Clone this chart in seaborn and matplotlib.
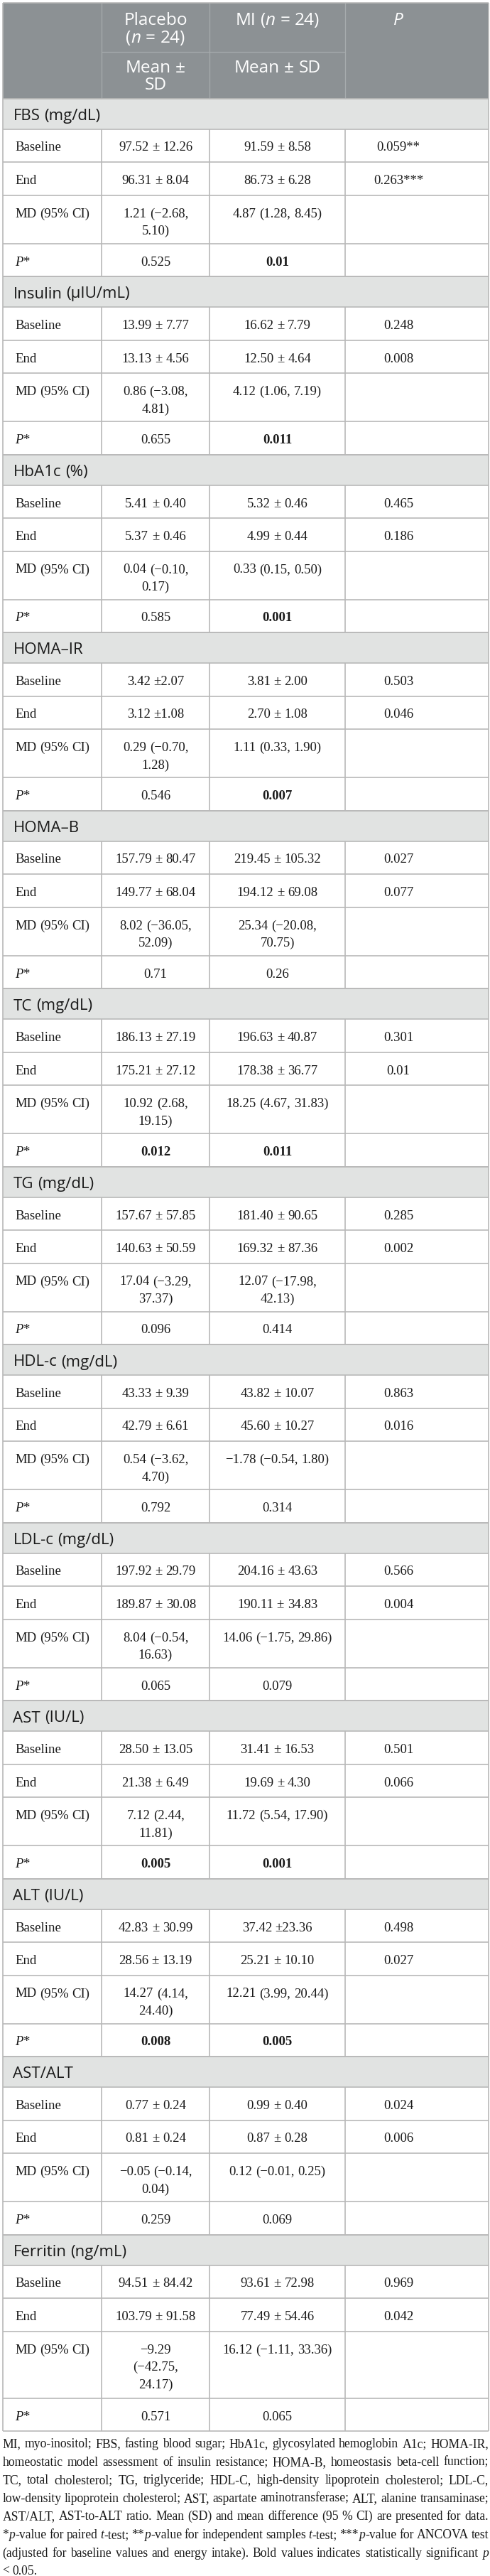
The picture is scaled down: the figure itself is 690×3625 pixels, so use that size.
import re

import matplotlib
matplotlib.use("Agg")
import matplotlib.pyplot as plt
from matplotlib.patches import Rectangle
import seaborn as sns


measures = [
    "FBS (mg/dL)", "Insulin (μIU/mL)", "HbA1c (%)", "HOMA–IR", "HOMA–B",
    "TC (mg/dL)", "TG (mg/dL)", "HDL-c (mg/dL)", "LDL-c (mg/dL)",
    "AST (IU/L)", "ALT (IU/L)", "AST/ALT", "Ferritin (ng/mL)",
]

row_labels = ["Baseline", "End", "MD (95% CI)", "_P_*"]

header_groups = ["Placebo\n(_n_ = 24)", "MI (_n_ = 24)", "_P_"]
header_stats = ["Mean ±\nSD", "Mean ± SD", ""]

placebo_base = [
    "97.52 ± 12.26", "13.99 ± 7.77", "5.41 ± 0.40", "3.42 ±2.07", "157.79 ± 80.47",
    "186.13 ± 27.19", "157.67 ± 57.85", "43.33 ± 9.39", "197.92 ± 29.79",
    "28.50 ± 13.05", "42.83 ± 30.99", "0.77 ± 0.24", "94.51 ± 84.42",
]
mi_base = [
    "91.59 ± 8.58", "16.62 ± 7.79", "5.32 ± 0.46", "3.81 ± 2.00", "219.45 ± 105.32",
    "196.63 ± 40.87", "181.40 ± 90.65", "43.82 ± 10.07", "204.16 ± 43.63",
    "31.41 ± 16.53", "37.42 ±23.36", "0.99 ± 0.40", "93.61 ± 72.98",
]
p_base = [
    "0.059**", "0.248", "0.465", "0.503", "0.027", "0.301", "0.285",
    "0.863", "0.566", "0.501", "0.498", "0.024", "0.969",
]

placebo_end = [
    "96.31 ± 8.04", "13.13 ± 4.56", "5.37 ± 0.46", "3.12 ±1.08", "149.77 ± 68.04",
    "175.21 ± 27.12", "140.63 ± 50.59", "42.79 ± 6.61", "189.87 ± 30.08",
    "21.38 ± 6.49", "28.56 ± 13.19", "0.81 ± 0.24", "103.79 ± 91.58",
]
mi_end = [
    "86.73 ± 6.28", "12.50 ± 4.64", "4.99 ± 0.44", "2.70 ± 1.08", "194.12 ± 69.08",
    "178.38 ± 36.77", "169.32 ± 87.36", "45.60 ± 10.27", "190.11 ± 34.83",
    "19.69 ± 4.30", "25.21 ± 10.10", "0.87 ± 0.28", "77.49 ± 54.46",
]
p_end = [
    "0.263***", "0.008", "0.186", "0.046", "0.077", "0.01", "0.002",
    "0.016", "0.004", "0.066", "0.027", "0.006", "0.042",
]

placebo_md = [
    "1.21 (−2.68,\n5.10)", "0.86 (−3.08,\n4.81)", "0.04 (−0.10,\n0.17)",
    "0.29 (−0.70,\n1.28)", "8.02 (−36.05,\n52.09)", "10.92 (2.68,\n19.15)",
    "17.04 (−3.29,\n37.37)", "0.54 (−3.62,\n4.70)", "8.04 (−0.54,\n16.63)",
    "7.12 (2.44,\n11.81)", "14.27 (4.14,\n24.40)", "−0.05 (−0.14,\n0.04)",
    "−9.29\n(−42.75,\n24.17)",
]
mi_md = [
    "4.87 (1.28, 8.45)", "4.12 (1.06, 7.19)", "0.33 (0.15, 0.50)",
    "1.11 (0.33, 1.90)", "25.34 (−20.08,\n70.75)", "18.25 (4.67, 31.83)",
    "12.07 (−17.98,\n42.13)", "−1.78 (−0.54, 1.80)", "14.06 (−1.75, 29.86)",
    "11.72 (5.54, 17.90)", "12.21 (3.99, 20.44)", "0.12 (−0.01, 0.25)",
    "16.12 (−1.11, 33.36)",
]

placebo_p = [
    "0.525", "0.655", "0.585", "0.546", "0.71", "0.012", "0.096",
    "0.792", "0.065", "0.005", "0.008", "0.259", "0.571",
]
mi_p = [
    "0.01", "0.011", "0.001", "0.007", "0.26", "0.011", "0.414",
    "0.314", "0.079", "0.001", "0.005", "0.069", "0.065",
]

footnote = [
    "MI, myo-inositol; FBS, fasting blood sugar; HbA1c, glycosylated hemoglobin A1c; HOMA-IR,",
    "homeostatic model assessment of insulin resistance; HOMA-B, homeostasis beta-cell function;",
    "TC, total cholesterol; TG, triglyceride; HDL-C, high-density lipoprotein cholesterol; LDL-C,",
    "low-density lipoprotein cholesterol; AST, aspartate aminotransferase; ALT, alanine transaminase;",
    "AST/ALT, AST-to-ALT ratio. Mean (SD) and mean difference (95 % CI) are presented for data.",
    "*_p_-value for paired _t_-test; **_p_-value for independent samples _t_-test; ***_p_-value for ANCOVA test",
    "(adjusted for baseline values and energy intake). Bold values indicates statistically significant _p_",
    "< 0.05.",
]


sns.set_theme(style="white")
plt.rcParams["font.family"] = ["Liberation Serif", "DejaVu Serif"]

SANS = ["Open Sans", "DejaVu Sans"]
SERIF = ["Liberation Serif", "DejaVu Serif"]

W, H = 690, 3625
X0, X1 = 3.5, 688
COLS = [X0, 143, 295, 486, X1]
CENTERS = [219, 390.5, 561]
HEAD_TOP, HEAD_BOT = 3.5, 138.5
BAND_H, ROW_H, LINE_H = 43, 46.5, 26

HEAD_BG = "#8c9194"
HEAD_LINE = "#a6abad"
BAND_BG = "#e1e3e2"
GRID = "#b9b9b9"
INK = "#1a1a1a"

fig = plt.figure(figsize=(W / 100, H / 100), dpi=100)
ax = fig.add_axes([0, 0, 1, 1])
ax.set_xlim(0, W)
ax.set_ylim(H, 0)
ax.axis("off")
renderer = fig.canvas.get_renderer()

_cache = {}


def font_kw(family, size, style):
    kw = dict(family=family, fontsize=size)
    if style == "italic":
        kw["fontstyle"] = "italic"
    elif style == "bold":
        kw["fontweight"] = "bold"
    return kw


def run_width(text, family, size, style):
    key = (text, tuple(family), size, style)
    if key not in _cache:
        kw = font_kw(family, size, style)
        a = ax.text(0, 0, "x" + text + "x", **kw)
        b = ax.text(0, 0, "xx", **kw)
        _cache[key] = a.get_window_extent(renderer).width - b.get_window_extent(renderer).width
        a.remove()
        b.remove()
    return _cache[key]


def parse_words(line, base="normal"):
    words = []
    for w in line.split(" "):
        parts = re.split(r"_([^_]+)_", w)
        words.append([(p, "italic" if k % 2 else base) for k, p in enumerate(parts) if p])
    return words


def word_width(word, family, size):
    return sum(run_width(t, family, size, st) for t, st in word)


def draw_line(x, y, line, family, size, color=INK, ha="left", base="normal", justify_to=None):
    words = parse_words(line, base)
    widths = [word_width(w, family, size) for w in words]
    if justify_to is not None and len(words) > 1:
        gap = (justify_to - x - sum(widths)) / (len(words) - 1)
    else:
        gap = run_width(" ", family, size, base)
    total = sum(widths) + gap * (len(words) - 1)
    if ha == "center":
        x -= total / 2
    for word, ww in zip(words, widths):
        xx = x
        for t, st in word:
            ax.text(xx, y, t, color=color, va="baseline", ha="left", **font_kw(family, size, st))
            xx += run_width(t, family, size, st)
        x += ww + gap


# header
ax.add_patch(Rectangle((X0, HEAD_TOP), X1 - X0, HEAD_BOT - HEAD_TOP,
                       facecolor=HEAD_BG, edgecolor="none"))
ax.vlines(COLS[1:4], HEAD_TOP, HEAD_BOT, colors=HEAD_LINE, lw=0.9)
ax.hlines(73, COLS[1], COLS[3], colors=HEAD_LINE, lw=0.9)
for cx, grp, stat in zip(CENTERS, header_groups, header_stats):
    for k, ln in enumerate(grp.split("\n")):
        draw_line(cx, 35 + 25 * k, ln, SANS, 17.6, color="white", ha="center")
    if stat:
        for k, ln in enumerate(stat.split("\n")):
            draw_line(cx, 102 + 23.5 * k, ln, SANS, 17.6, color="white", ha="center")

# body
y = HEAD_BOT
for i, name in enumerate(measures):
    ax.add_patch(Rectangle((X0, y), X1 - X0, BAND_H, facecolor=BAND_BG, edgecolor="none"))
    ax.hlines(y, X0, X1, colors=GRID, lw=1.2)
    draw_line(18.5, y + 30.5, name, SANS, 16.0)
    y += BAND_H
    ax.hlines(y, X0, X1, colors=GRID, lw=1.2)
    rows_top = y
    cells = [
        (placebo_base[i], mi_base[i], p_base[i]),
        (placebo_end[i], mi_end[i], p_end[i]),
        (placebo_md[i], mi_md[i], ""),
        (placebo_p[i], mi_p[i], ""),
    ]
    for r, (label, vals) in enumerate(zip(row_labels, cells)):
        nlines = max(v.count("\n") + 1 for v in vals)
        h = ROW_H if nlines == 1 else 42 + LINE_H * (nlines - 1)
        draw_line(21, y + 31, label, SERIF, 13.5)
        for cx, v in zip(CENTERS, vals):
            if not v:
                continue
            base = "bold" if r == 3 and float(v) < 0.05 else "normal"
            for k, ln in enumerate(v.split("\n")):
                draw_line(cx, y + 31 + 24.5 * k, ln, SERIF, 13.5, ha="center", base=base)
        y += h
        ax.hlines(y, X0, X1, colors=GRID, lw=1.2)
    ax.vlines(COLS[1:4], rows_top, y, colors=GRID, lw=1.2)

table_bottom = y
ax.vlines([X0, X1], HEAD_TOP, table_bottom, colors=GRID, lw=1.2)
ax.hlines(HEAD_TOP, X0, X1, colors=GRID, lw=1.2)

# footnote, justified like the source
fn_size = 12.7
need = []
for ln in footnote[:-1]:
    words = parse_words(ln)
    ws = sum(word_width(w, SERIF, fn_size) for w in words)
    need.append((X1 - X0 - (len(words) - 1) * 2.5) / ws)
fn_size = fn_size * min(1.0, min(need))

for k, ln in enumerate(footnote):
    yy = 3444 + 25.6 * k
    if k < len(footnote) - 1:
        draw_line(X0, yy, ln, SERIF, fn_size, justify_to=X1)
    else:
        draw_line(X0, yy, ln, SERIF, fn_size)

fig.savefig("out.png", dpi=100, facecolor="white")
